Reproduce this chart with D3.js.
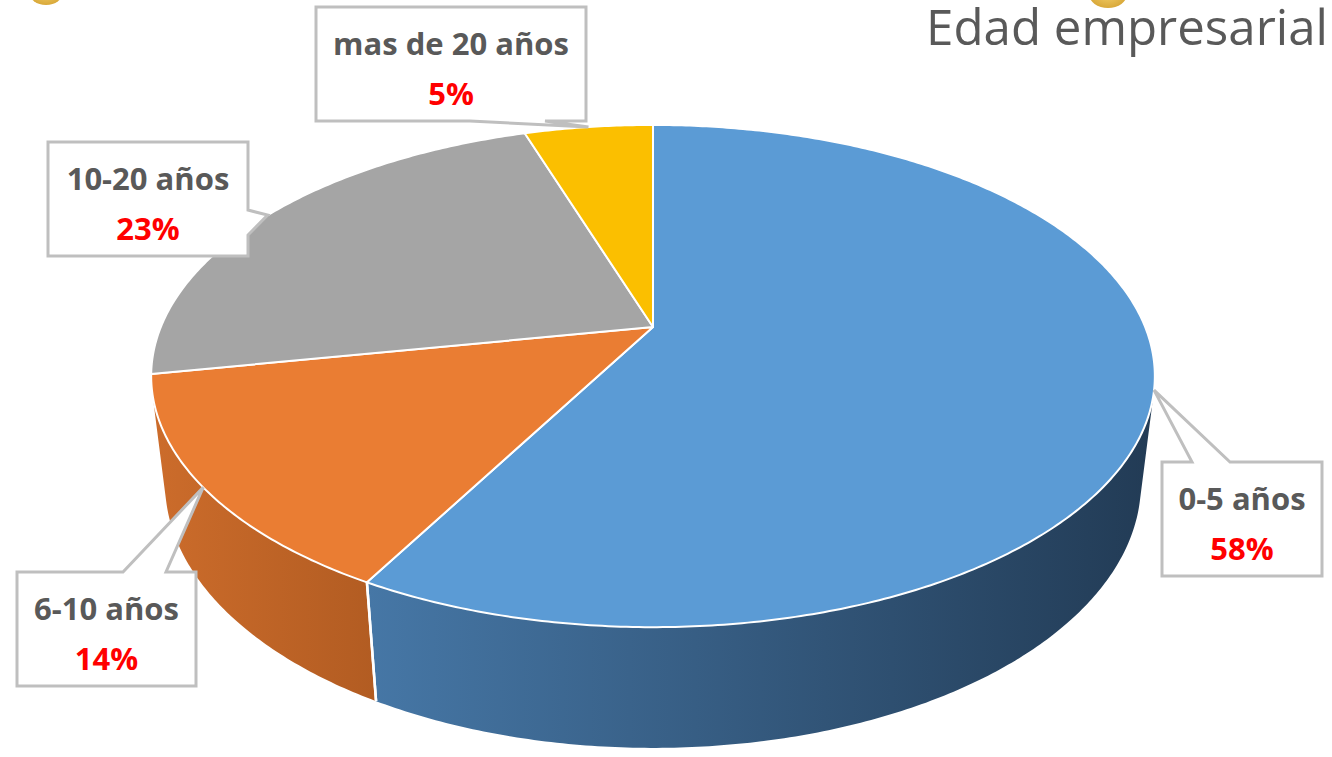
<!DOCTYPE html>
<html>
<head>
<meta charset="utf-8">
<script src="https://cdn.jsdelivr.net/npm/d3@7"></script>
<style>
  body { margin: 0; background: #fff; }
</style>
</head>
<body>
<div class="vis-pie3d"></div>
<script>
// data
const categories = ["0-5 años", "6-10 años", "10-20 años", "mas de 20 años"];
const values = [58, 14, 23, 5];
const topColors = ["#5b9bd5", "#ea7d33", "#a5a5a5", "#fbbf00"];
const sideColors = [["#4677a6", "#223b55"], ["#cc6c2b", "#b25c22"], ["#888", "#777"], ["#d9a300", "#c99400"]];
const title = "Edad empresarial";

const width = 1332, height = 757;

// label box layout: [x, y, w, h, pointer side, pointer base a, pointer base b]
const boxes = [
  {x: 1162, y: 462, w: 160, h: 114, side: "top", a: 1192, b: 1230},
  {x: 17, y: 572, w: 179, h: 114, side: "top", a: 123, b: 166},
  {x: 48, y: 142, w: 200, h: 114, side: "right", a: 210, b: 235},
  {x: 316, y: 7, w: 270, h: 114, side: "bottom", a: 470, b: 545}
];

const svg = d3.select(".vis-pie3d")
  .append("svg")
  .attr("width", width)
  .attr("height", height)
  .style("font-family", "'Open Sans', Lato, sans-serif");

// perspective camera
const cam = {cx: 653, cy: 327, D: 4.47, s: 0.487, c: 0.873, fx: 2200, fy: 2217, t: 0.251};
function proj(theta, r, h) {
  const u = r * Math.sin(theta), v = r * Math.cos(theta);
  const depth = cam.D + v * cam.c - h * cam.s;
  return [cam.cx + cam.fx * u / depth, cam.cy - cam.fy * (h * cam.c + v * cam.s) / depth];
}
function arcPts(a0, a1, h) {
  const n = Math.max(2, Math.ceil(Math.abs(a1 - a0) / 0.01));
  return d3.range(n + 1).map(i => proj(a0 + (a1 - a0) * i / n, 1, h));
}

const pie = d3.pie().sort(null).value(d => d)(values);
const line = d3.line();
const defs = svg.append("defs");

// decorative gold bits at the top edge
const gold = defs.append("radialGradient").attr("id", "gold");
gold.append("stop").attr("offset", "0%").attr("stop-color", "#f3cf6a");
gold.append("stop").attr("offset", "100%").attr("stop-color", "#d9a93a");
svg.append("ellipse").attr("cx", 46).attr("cy", -8).attr("rx", 17).attr("ry", 13).attr("fill", "url(#gold)");
svg.append("ellipse").attr("cx", 1108).attr("cy", -6).attr("rx", 19).attr("ry", 14).attr("fill", "url(#gold)");

// visible side range
const lim = Math.acos(-1 / (cam.D * cam.c));
const visA = lim, visB = 2 * Math.PI - lim;

const walls = svg.append("g").attr("class", "walls");
pie.forEach((d, i) => {
  const a0 = Math.max(d.startAngle, visA), a1 = Math.min(d.endAngle, visB);
  if (a1 <= a0) return;
  const top = arcPts(a0, a1, 0), bot = arcPts(a1, a0, -cam.t);
  const xs = top.concat(bot).map(p => p[0]);
  const g = defs.append("linearGradient").attr("id", "side" + i)
    .attr("gradientUnits", "userSpaceOnUse")
    .attr("x1", d3.min(xs)).attr("x2", d3.max(xs)).attr("y1", 0).attr("y2", 0);
  g.append("stop").attr("offset", "0%").attr("stop-color", sideColors[i][0]);
  g.append("stop").attr("offset", "100%").attr("stop-color", sideColors[i][1]);
  walls.append("path")
    .attr("d", line(top.concat(bot)) + "Z")
    .attr("fill", "url(#side" + i + ")");
});
// white seams between wall pieces
pie.forEach(d => {
  [d.startAngle, d.endAngle].forEach(a => {
    if (a > visA && a < visB) {
      walls.append("path")
        .attr("d", line([proj(a, 1, 0), proj(a, 1, -cam.t)]))
        .attr("stroke", "#fff").attr("stroke-width", 2.5);
    }
  });
});

// top faces
const tops = svg.append("g").attr("class", "tops");
pie.forEach((d, i) => {
  const pts = [[cam.cx, cam.cy]].concat(arcPts(d.startAngle, d.endAngle, 0));
  tops.append("path")
    .attr("d", line(pts) + "Z")
    .attr("fill", topColors[i])
    .attr("stroke", "#fff")
    .attr("stroke-width", 2)
    .attr("stroke-linejoin", "round");
});

// callout labels
const labels = svg.append("g").attr("class", "labels");
const total = d3.sum(values);
pie.forEach((d, i) => {
  const b = boxes[i];
  const tip = proj((d.startAngle + d.endAngle) / 2, 1, 0);
  const x0 = b.x, y0 = b.y, x1 = b.x + b.w, y1 = b.y + b.h;
  let pts;
  if (b.side === "top") {
    pts = [[x0, y0], [b.a, y0], tip, [b.b, y0], [x1, y0], [x1, y1], [x0, y1]];
  } else if (b.side === "right") {
    pts = [[x0, y0], [x1, y0], [x1, b.a], tip, [x1, b.b], [x1, y1], [x0, y1]];
  } else {
    pts = [[x0, y0], [x1, y0], [x1, y1], [b.b, y1], tip, [b.a, y1], [x0, y1]];
  }
  labels.append("path")
    .attr("d", line(pts) + "Z")
    .attr("fill", "#fff")
    .attr("stroke", "#bfbfbf")
    .attr("stroke-width", 3)
    .attr("stroke-linejoin", "miter");
  labels.append("text")
    .attr("x", b.x + b.w / 2).attr("y", b.y + 48)
    .attr("text-anchor", "middle")
    .attr("font-size", 31).attr("font-weight", 700)
    .attr("fill", "#595959")
    .text(categories[i]);
  labels.append("text")
    .attr("x", b.x + b.w / 2).attr("y", b.y + 98)
    .attr("text-anchor", "middle")
    .attr("font-size", 31).attr("font-weight", 700)
    .attr("fill", "#ff0000")
    .text(Math.round(d.data / total * 100) + "%");
});

// title, sized to span the same width as the original
const titleText = svg.append("text")
  .attr("x", 1328).attr("y", 45)
  .attr("text-anchor", "end")
  .attr("font-size", 46)
  .attr("fill", "#595959")
  .text(title);
const tw = titleText.node().getComputedTextLength();
if (tw) titleText.attr("font-size", 46 * 402 / tw);
</script>
</body>
</html>
